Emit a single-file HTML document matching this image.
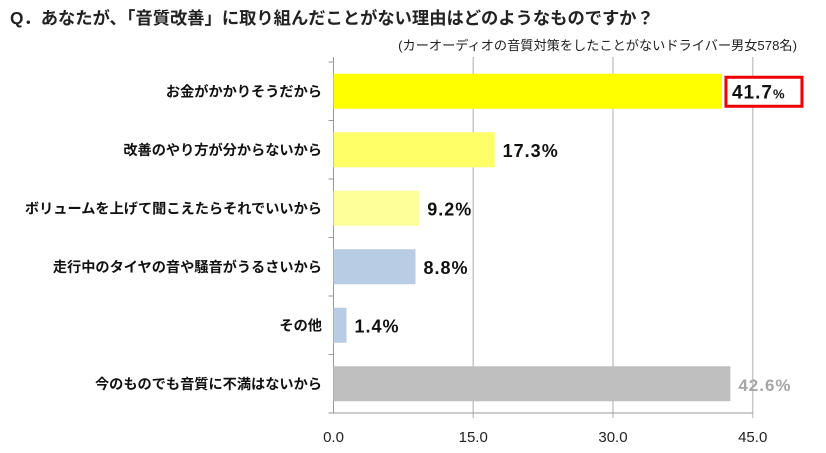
<!DOCTYPE html>
<html><head><meta charset="utf-8"><style>
body{margin:0;background:#fff;width:826px;height:448px;overflow:hidden;font-family:"Liberation Sans","Noto Sans CJK JP",sans-serif;}
</style></head><body>
<svg width="826" height="448" font-family="Liberation Sans, Noto Sans CJK JP, sans-serif">
<text x="10" y="24" font-size="17.3" font-weight="bold" fill="#222">Q．あなたが、「音質改善」に取り組んだことがない理由はどのようなものですか？</text>
<text x="797" y="50" font-size="13.2" text-anchor="end" fill="#222">(カーオーディオの音質対策をしたことがないドライバー男女578名)</text>
<g id="plot"></g>
</svg>
<script>
const categories=["お金がかかりそうだから","改善のやり方が分からないから","ボリュームを上げて聞こえたらそれでいいから","走行中のタイヤの音や騒音がうるさいから","その他","今のものでも音質に不満はないから"];
const values=[41.7,17.3,9.2,8.8,1.4,42.6];
const valueLabels=["41.7","17.3%","9.2%","8.8%","1.4%","42.6%"];
const colors=["#ffff00","#ffff66","#ffff99","#b8cce4","#b8cce4","#bfbfbf"];
const ticks=[0,15,30,45];
const tickLabels=["0.0","15.0","30.0","45.0"];
const NS="http://www.w3.org/2000/svg";
const g=document.getElementById('plot');
const X0=333.5,X1=752.7,Y0=62,Y1=413,MAX=45;
const x=v=>X0+(X1-X0)*v/MAX;
const band=(Y1-Y0)/categories.length;
const yc=i=>Y0+band*(i+0.5);
function mk(t,a){const e=document.createElementNS(NS,t);for(const k in a)e.setAttribute(k,a[k]);g.appendChild(e);return e;}
ticks.forEach((t,i)=>{
 if(t>0){const l=mk('line',{x1:x(t),x2:x(t),y1:Y0-5,y2:Y1+5,stroke:'#c8c8c8','stroke-width':1.5});
 
 }
 const tx=mk('text',{x:x(t),y:442,'font-size':15,'text-anchor':'middle',fill:'#222'});
 tx.textContent=tickLabels[i];
 
 
});
const ax=mk('line',{x1:X0,x2:X0,y1:Y0-5,y2:Y1,stroke:'#999','stroke-width':1});


const bx=mk('line',{x1:X0,x2:X1,y1:Y1,y2:Y1,stroke:'#999','stroke-width':1});


for(let i=0;i<=categories.length;i++){const t=mk('line',{x1:X0-5,x2:X0,y1:Y0+band*i,y2:Y0+band*i,stroke:'#999'});
 
 }
categories.forEach((c,i)=>{
 const b=mk('rect',{x:X0,y:yc(i)-17.5,width:x(values[i])-X0,height:35,fill:colors[i]});
 
 
 const cl=mk('text',{x:322,y:yc(i)+5,'font-size':14.2,'font-weight':'bold','text-anchor':'end',fill:'#111'});
 cl.textContent=c;
 
 
 const vx=x(values[i])+8;
 if(i===0){
  const r=mk('rect',{x:vx-4,y:yc(i)-14,width:76,height:29,fill:'#fff',stroke:'#e00','stroke-width':3});
  
  
  const v=mk('text',{x:vx+2,y:yc(i)+7,'font-size':19,'font-weight':'bold',fill:'#111','letter-spacing':1});
  v.innerHTML=valueLabels[i]+'<tspan font-size="13">%</tspan>';
  
  
 }else{
  const v=mk('text',{x:vx,y:yc(i)+7,'font-size':i===5?17:18,'font-weight':'bold',fill:i===5?'#a6a6a6':'#111','letter-spacing':1});
  v.textContent=valueLabels[i];
  
  
 }
});
</script>
</body></html>
